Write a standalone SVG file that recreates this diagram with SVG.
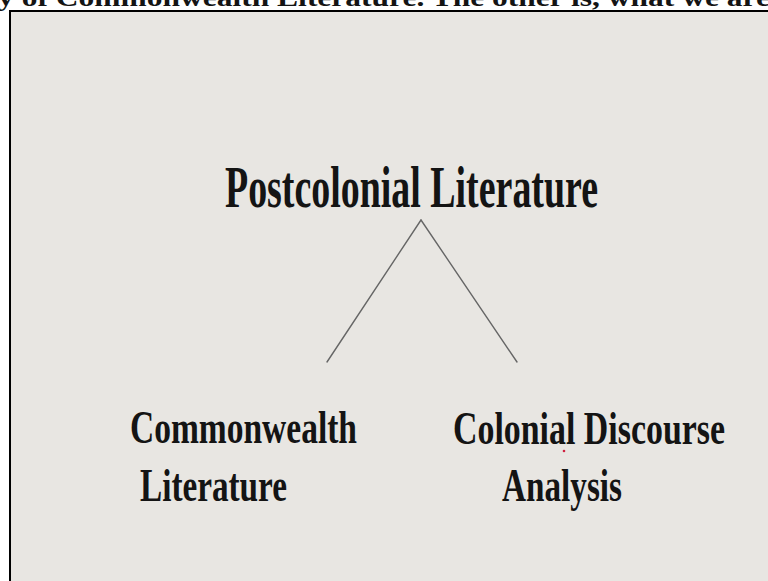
<svg xmlns="http://www.w3.org/2000/svg" width="768" height="581" viewBox="0 0 768 581">
  <style>
    .t { font-family: "Liberation Serif", "Times New Roman", serif; font-weight: bold; fill: #141414; }
    .edge { stroke: #666; stroke-width: 1.4; fill: none; stroke-linecap: round; }
  </style>
  <rect x="0" y="0" width="768" height="581" fill="#ffffff"/>
  <rect x="10" y="11" width="770" height="580" fill="#e8e6e2" stroke="#000" stroke-width="2"/>
  <text class="t" x="-2" y="6" font-size="25" textLength="772" lengthAdjust="spacingAndGlyphs" fill="#000">y of Commonwealth Literature. The other is, what we are</text>
  <g id="edges">
    <line class="edge" x1="421" y1="220" x2="327" y2="362"/>
    <line class="edge" x1="421" y1="220" x2="517" y2="362"/>
  </g>
  <g id="node-root">
    <text class="t" x="225" y="207" font-size="60" textLength="373" lengthAdjust="spacingAndGlyphs">Postcolonial Literature</text>
  </g>
  <g id="node-commonwealth">
    <text class="t" x="130" y="443" font-size="46" textLength="227" lengthAdjust="spacingAndGlyphs">Commonwealth</text>
    <text class="t" x="140" y="501" font-size="46" textLength="147" lengthAdjust="spacingAndGlyphs">Literature</text>
  </g>
  <g id="node-discourse">
    <text class="t" x="453" y="444" font-size="46" textLength="272" lengthAdjust="spacingAndGlyphs">Colonial Discourse</text>
    <text class="t" x="502" y="501" font-size="46" textLength="120" lengthAdjust="spacingAndGlyphs">Analysis</text>
  </g>
  <circle cx="564" cy="451" r="1.3" fill="#d02040"/>
</svg>
